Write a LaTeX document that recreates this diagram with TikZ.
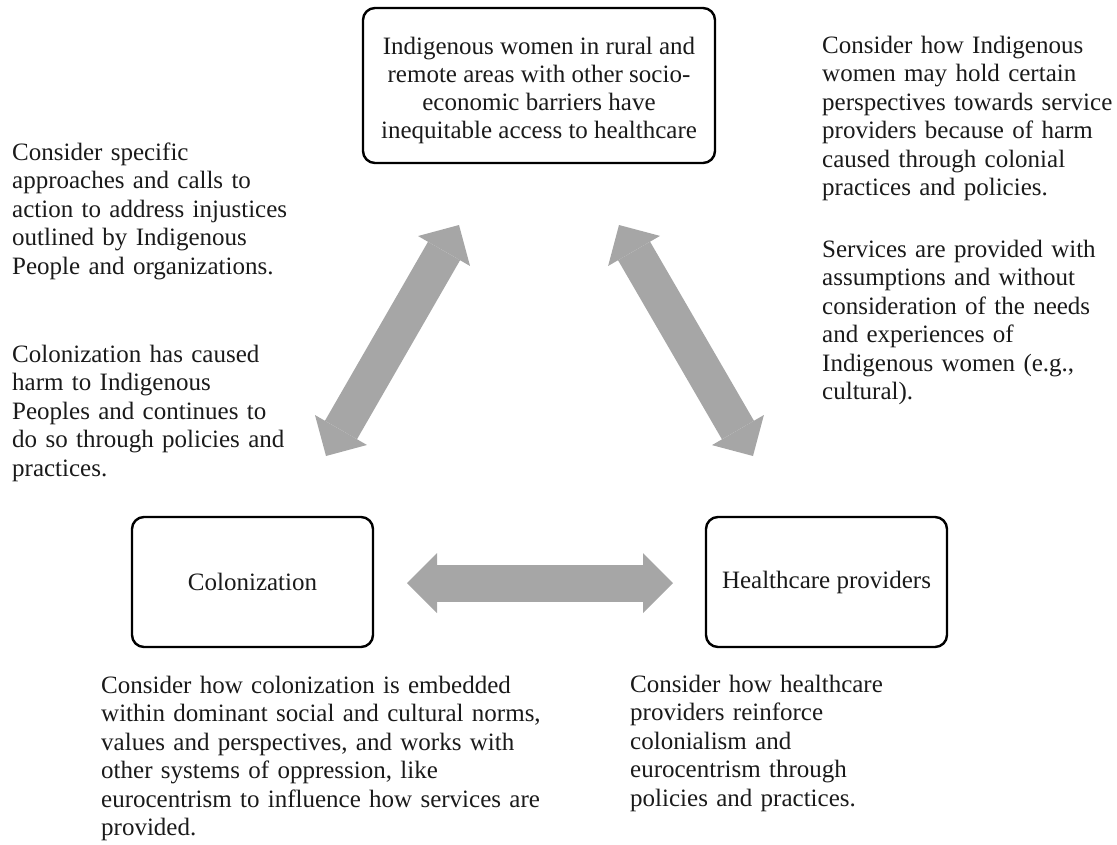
\documentclass[tikz,border=0pt]{standalone}
\usepackage{fontspec}
\setmainfont{Liberation Serif}
\usetikzlibrary{arrows.meta}
\definecolor{arrowgray}{HTML}{A6A6A6}
\definecolor{inkgray}{HTML}{1A1A1A}
\begin{document}
\begin{tikzpicture}[x=1pt,y=-1pt,
  box/.style={draw=black, line width=2.4pt, rounded corners=12pt, inner sep=0pt,
    align=center, text=inkgray, font=\fontsize{25}{28}\selectfont},
  note/.style={anchor=base west, inner sep=0pt, text width=480pt, align=left,
    text=inkgray, font=\fontsize{25}{28.5}\selectfont},
  bigtip/.tip={Triangle[length=30pt 0 1, width=60pt 0 1, line width=0pt]},
  link/.style={draw=arrowgray, line width=37pt, {bigtip}-{bigtip}}
]
\useasboundingbox (0,0) rectangle (1117,844);

% the three boxes
\node[box, minimum width=352pt, minimum height=155pt] (women) at (539,85.5)
  {\rule{0pt}{28pt}Indigenous women in rural and\\remote areas with other socio-\\economic barriers have\\inequitable access to healthcare};
\node[box, minimum width=241pt, minimum height=130pt] (colon) at (252.5,582) {Colonization};
\node[box, minimum width=241pt, minimum height=130pt] (care) at (826.5,582) {Healthcare providers};

% ends of the double arrows
\coordinate (lwA) at (326,456);
\coordinate (lwB) at (459,225);
\coordinate (rwA) at (619,225);
\coordinate (rwB) at (753,456);
\coordinate (hzA) at (407,583);
\coordinate (hzB) at (673,583);

\draw[link] (lwA) -- (lwB);
\draw[link] (rwA) -- (rwB);
\draw[link] (hzA) -- (hzB);

% notes
\node[note] (calls) at (12,160)
  {Consider specific\\approaches and calls to\\action to address injustices\\outlined by Indigenous\\People and organizations.};
\node[note] (harm) at (12,362)
  {Colonization has caused\\harm to Indigenous\\Peoples and continues to\\do so through policies and\\practices.};
\node[note] (persp) at (822,53)
  {Consider how Indigenous\\women may hold certain\\perspectives towards service\\providers because of harm\\caused through colonial\\practices and policies.};
\node[note] (serv) at (822,257)
  {Services are provided with\\assumptions and without\\consideration of the needs\\and experiences of\\Indigenous women (e.g.,\\cultural).};
\node[note] (embed) at (101,693)
  {Consider how colonization is embedded\\within dominant social and cultural norms,\\values and perspectives, and works with\\other systems of oppression, like\\eurocentrism to influence how services are\\provided.};
\node[note] (reinf) at (630,692)
  {Consider how healthcare\\providers reinforce\\colonialism and\\eurocentrism through\\policies and practices.};
\end{tikzpicture}
\end{document}
